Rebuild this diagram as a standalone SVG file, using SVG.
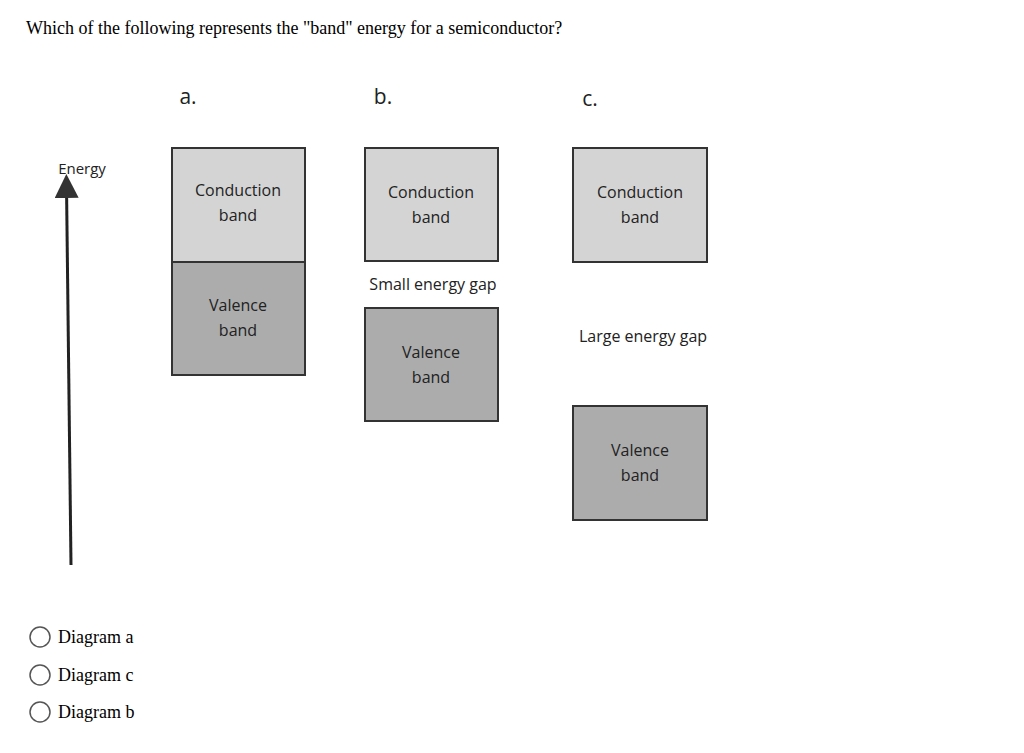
<svg xmlns="http://www.w3.org/2000/svg" width="1024" height="753" viewBox="0 0 1024 753">
<style>
.q{font-family:"Liberation Serif",serif;font-size:18px;fill:#000}
.l{font-family:"Open Sans","DejaVu Sans",sans-serif;font-size:16px;fill:#222;text-anchor:middle}
.h{font-family:"Open Sans","DejaVu Sans",sans-serif;font-size:21px;fill:#222;text-anchor:middle}
.c{fill:#d4d4d4;stroke:#333;stroke-width:2}
.v{fill:#acacac;stroke:#333;stroke-width:2}
.r{fill:#fff;stroke:#555;stroke-width:1.5}
</style>
<defs><marker id="ah" markerWidth="8" markerHeight="8" refX="4" refY="4" orient="auto"><path d="M0,0 L8,4 L0,8 z" fill="#333"/></marker></defs>
<rect width="1024" height="753" fill="#fff"/>
<text class="q" x="26" y="34">Which of the following represents the "band" energy for a semiconductor?</text>
<text class="h" x="188" y="104">a.</text>
<text class="h" x="383" y="104">b.</text>
<text class="h" x="590" y="106">c.</text>
<g id="energy-axis">
<text class="l" x="82" y="174" style="font-size:15px">Energy</text>
</g>
<g id="connectors"><line x1="71" y1="565" x2="66.5" y2="186" stroke="#222" stroke-width="3" marker-end="url(#ah)"/></g>
<g id="a-cond"><rect class="c" x="172" y="148" width="133" height="114"/><text class="l" x="238" y="196">Conduction</text><text class="l" x="238" y="221">band</text></g>
<g id="a-val"><rect class="v" x="172" y="262" width="133" height="113"/><text class="l" x="238" y="311">Valence</text><text class="l" x="238" y="336">band</text></g>
<g id="b-cond"><rect class="c" x="365" y="148" width="133" height="113"/><text class="l" x="431" y="198">Conduction</text><text class="l" x="431" y="223">band</text></g>
<g id="b-gap"><text class="l" x="433" y="290">Small energy gap</text></g>
<g id="b-val"><rect class="v" x="365" y="308" width="133" height="113"/><text class="l" x="431" y="358">Valence</text><text class="l" x="431" y="383">band</text></g>
<g id="c-cond"><rect class="c" x="573" y="148" width="134" height="114"/><text class="l" x="640" y="198">Conduction</text><text class="l" x="640" y="223">band</text></g>
<g id="c-gap"><text class="l" x="643" y="342">Large energy gap</text></g>
<g id="c-val"><rect class="v" x="573" y="406" width="134" height="114"/><text class="l" x="640" y="456">Valence</text><text class="l" x="640" y="481">band</text></g>
<g id="options">
<circle class="r" cx="40" cy="637" r="10"/><text class="q" x="58" y="643">Diagram a</text>
<circle class="r" cx="40" cy="675" r="10"/><text class="q" x="58" y="681">Diagram c</text>
<circle class="r" cx="40" cy="712" r="10"/><text class="q" x="58" y="718">Diagram b</text>
</g>
</svg>
